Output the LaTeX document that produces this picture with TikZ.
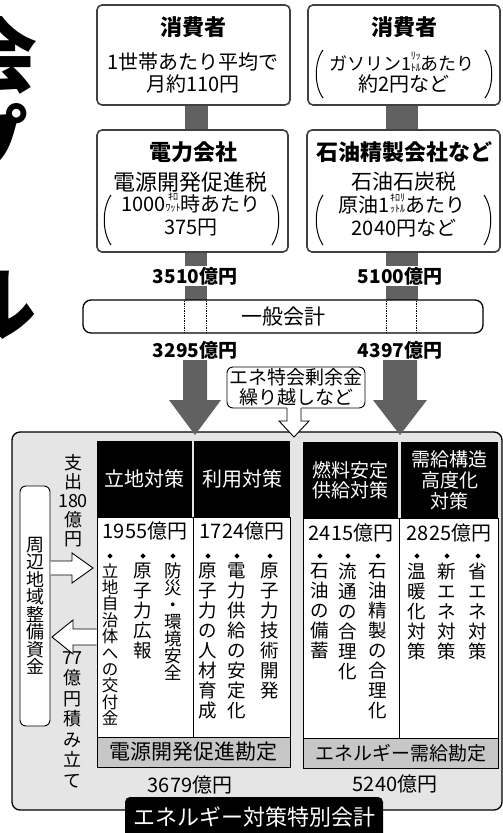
\documentclass[tikz,border=0pt]{standalone}
\usepackage{fontspec}
\setmainfont{Noto Sans CJK JP}
\usetikzlibrary{shapes.geometric}
\newcommand\fsz[2]{\fontsize{#1}{#2}\selectfont}
\newcommand\kstack[2]{{\fsz{10}{8.5}\raisebox{-0.5pt}{\shortstack{#1\\#2}}}}
\begin{document}
\begin{tikzpicture}[x=1pt,y=-1pt,
  topbox/.style={draw=black!75, line width=1.6pt, rounded corners=5pt, fill=white, inner sep=0pt},
  gbar/.style={fill=black!62},
  ttl/.style={font=\bfseries\fsz{22}{24}, inner sep=0pt},
  txt/.style={font=\fsz{20}{22}, inner sep=0pt},
  amt/.style={font=\bfseries\fsz{19}{20}, fill=white, inner sep=1pt},
  amtr/.style={font=\fsz{20}{22}, inner sep=0pt},
  hdr/.style={fill=black, text=white, font=\fsz{20}{21}, align=center, inner sep=0pt},
  bodyb/.style={draw=black, line width=0.8pt, fill=white, inner sep=0pt},
  labb/.style={draw=black, line width=0.8pt, fill=black!22, font=\fsz{20}{22}, inner sep=0pt},
  vcol/.style={anchor=north, align=center, inner sep=0pt, font=\fsz{18.5}{20}},
  bul/.style={diamond, fill=black, inner sep=0pt, minimum size=5.5pt},
  hollow/.style={draw=black, line width=0.9pt, line join=miter},
  paren/.style={line width=1pt},
]
\useasboundingbox (0,0) rectangle (503,833);
\clip (0,0) rectangle (503,833);

% clipped headline characters at the left edge
\node[font=\bfseries\fsz{82}{82}, inner sep=0pt] (hkai) at (-3,55) {会};
\node[font=\bfseries\fsz{82}{82}, inner sep=0pt] (hpu) at (-12,142) {プ};
\node[font=\bfseries\fsz{82}{82}, inner sep=0pt] (hru) at (-4,305) {ル};

% gray connectors
\fill[gbar] (185,100) rectangle (208,135);
\fill[gbar] (386,100) rectangle (418,135);
\fill[gbar] (185,248) rectangle (207,305);
\fill[gbar] (386,248) rectangle (418,305);

% top boxes
\node[topbox, minimum width=193pt, minimum height=100pt] (c1) at (193.5,55) {};
\node[topbox, minimum width=192pt, minimum height=100pt] (c2) at (404,55) {};
\node[topbox, minimum width=191pt, minimum height=122pt] (d1) at (192.5,191) {};
\node[topbox, minimum width=193pt, minimum height=122pt] (d2) at (403.5,191) {};

\node[ttl] (c1t) at (193,27) {消費者};
\node[txt] (c1a) at (193,62) {1世帯あたり平均で};
\node[txt] (c1b) at (193,84) {月約110円};
\node[ttl] (c2t) at (404,27) {消費者};
\node[txt, font=\fsz{18}{20}] (c2a) at (402,62) {ガソリン1\kstack{ﾘｯ}{ﾄﾙ}あたり};
\node[txt] (c2b) at (404,84) {約2円など};
\draw[paren] (323,50) .. controls (314,62) and (314,86) .. (323,98);
\draw[paren] (485,50) .. controls (494,62) and (494,86) .. (485,98);

\node[ttl] (d1t) at (193,152) {電力会社};
\node[txt, font=\fsz{22}{24}] (d1a) at (190,182) {電源開発促進税};
\node[txt] (d1b) at (191,203) {1000\kstack{ｷﾛ}{ﾜｯﾄ}時あたり};
\node[txt] (d1c) at (191,228) {375円};
\draw[paren] (111,195) .. controls (102,208) and (102,232) .. (111,245);
\draw[paren] (272,195) .. controls (281,208) and (281,232) .. (272,245);

\node[ttl] (d2t) at (404,152) {石油精製会社など};
\node[txt, font=\fsz{21}{24}] (d2a) at (404,182) {石油石炭税};
\node[txt] (d2b) at (402,204) {原油1\kstack{ｷﾛﾘ}{ｯﾄﾙ}あたり};
\node[txt] (d2c) at (404,228) {2040円など};
\draw[paren] (323,195) .. controls (314,208) and (314,232) .. (323,245);
\draw[paren] (484,195) .. controls (493,208) and (493,232) .. (484,245);

\node[amt] (m1) at (195,276) {3510億円};
\node[amt] (m2) at (400,276) {5100億円};

% general account
\node[draw, line width=1.3pt, rounded corners=8pt, fill=white, minimum width=400pt, minimum height=33pt, inner sep=0pt, font=\fsz{21}{22}] (gen) at (283,316.5) {一般会計};
\draw[densely dotted, line width=0.7pt] (184,301) -- (184,332);
\draw[densely dotted, line width=0.7pt] (206,301) -- (206,332);
\draw[densely dotted, line width=0.7pt] (386,301) -- (386,332);
\draw[densely dotted, line width=0.7pt] (416,301) -- (416,332);

% outer special account box
\node[draw, line width=1.3pt, rounded corners=8pt, fill=black!10, minimum width=490pt, minimum height=378pt, inner sep=0pt] (outer) at (257,621) {};

% big arrows
\fill[gbar] (183,342) -- (207,342) -- (207,400) -- (221,400) -- (195,435) -- (169,400) -- (183,400) -- cycle;
\fill[gbar] (383,342) -- (417,342) -- (417,400) -- (427,400) -- (400,435) -- (373,400) -- (383,400) -- cycle;
\node[amt] (m3) at (195,350) {3295億円};
\node[amt] (m4) at (400,350) {4397億円};

% surplus bubble
\node[draw, line width=0.9pt, rounded corners=6pt, fill=white, minimum width=138pt, minimum height=41pt, inner sep=0pt, align=center, font=\fsz{19}{20}] (bub) at (296,387.5) {エネ特会剰余金\\繰り越しなど};
\fill[white] (287,405) -- (301,405) -- (301,421) -- (309,421) -- (294,437) -- (279,421) -- (287,421) -- cycle;
\draw[hollow] (287,408) -- (287,421) -- (279,421) -- (294,437) -- (309,421) -- (301,421) -- (301,408);

% headers
\node[hdr, minimum width=95pt, minimum height=76pt] (h1) at (144.5,479) {立地対策};
\node[hdr, minimum width=96pt, minimum height=76pt] (h2) at (242,479) {利用対策};
\node[hdr, minimum width=95pt, minimum height=76pt, font=\fsz{19}{20}] (h3) at (350.5,480) {燃料安定\\供給対策};
\node[hdr, minimum width=97pt, minimum height=76pt, font=\fsz{19}{21}] (h4) at (449.5,480) {需給構造\\高度化\\対策};

% bodies
\node[bodyb, minimum width=96pt, minimum height=220pt] (bA1) at (145,627) {};
\node[bodyb, minimum width=97pt, minimum height=220pt] (bA2) at (241.5,627) {};
\node[bodyb, minimum width=96pt, minimum height=220pt] (bB1) at (351,628) {};
\node[bodyb, minimum width=99pt, minimum height=220pt] (bB2) at (448.5,628) {};

\node[amtr] (a1m) at (145,531) {1955億円};
\node[amtr] (a2m) at (242,531) {1724億円};
\node[amtr] (b1m) at (351,533) {2415億円};
\node[amtr] (b2m) at (449,533) {2825億円};

\foreach \x in {110,143,173,208,237,270,320,348,378,417,447,478}
  \node[bul] (bu\x) at (\x,556) {};

\node[vcol, font=\fsz{16.5}{16.4}] (a11) at (110,563) {立\\地\\自\\治\\体\\へ\\の\\交\\付\\金};
\node[vcol] (a12) at (143,563) {原\\子\\力\\広\\報};
\node[vcol, font=\fsz{17.5}{17}] (a13) at (173,563) {防\\災\\・\\環\\境\\安\\全};
\node[vcol] (a21) at (208,563) {原\\子\\力\\の\\人\\材\\育\\成};
\node[vcol] (a22) at (237,563) {電\\力\\供\\給\\の\\安\\定\\化};
\node[vcol] (a23) at (270,563) {原\\子\\力\\技\\術\\開\\発};
\node[vcol] (b11) at (320,563) {石\\油\\の\\備\\蓄};
\node[vcol] (b12) at (348,563) {流\\通\\の\\合\\理\\化};
\node[vcol] (b13) at (378,563) {石\\油\\精\\製\\の\\合\\理\\化};
\node[vcol] (b21) at (417,563) {温\\暖\\化\\対\\策};
\node[vcol] (b22) at (447,563) {新\\エ\\ネ\\対\\策};
\node[vcol] (b23) at (478,563) {省\\エ\\ネ\\対\\策};

% account labels
\node[labb, minimum width=193pt, minimum height=30pt, font=\fsz{21}{22}] (lA) at (193.5,752) {電源開発促進勘定};
\node[labb, minimum width=195pt, minimum height=30pt, font=\fsz{19}{22}] (lB) at (400.5,753) {エネルギー需給勘定};
\node[amtr] (tA) at (190,785) {3679億円};
\node[amtr] (tB) at (395,784) {5240億円};

% left side fund
\node[draw, line width=0.9pt, rounded corners=6pt, fill=white, minimum width=30pt, minimum height=240pt, inner sep=0pt, align=center, font=\fsz{18}{17.5}] (fund) at (35,606) {周\\辺\\地\\域\\整\\備\\資\\金};
\node[vcol, font=\fsz{18}{19}] (out180) at (73,454) {支\\出\\180\\億\\円};
\node[vcol, font=\fsz{18}{20.5}] (in77) at (72,651) {77\\億\\円\\積\\み\\立\\て};
\fill[white] (50.5,561) -- (72,561) -- (72,553) -- (93,568) -- (72,583) -- (72,575) -- (50.5,575) -- cycle;
\draw[hollow] (50.5,561) -- (72,561) -- (72,553) -- (93,568) -- (72,583) -- (72,575) -- (50.5,575);
\fill[white] (96.5,629) -- (73,629) -- (73,620) -- (52,637) -- (73,654) -- (73,645) -- (96.5,645) -- cycle;
\draw[hollow] (96.5,629) -- (73,629) -- (73,620) -- (52,637) -- (73,654) -- (73,645) -- (96.5,645);

% bottom title
\node[fill=black, text=white, rounded corners=5pt, minimum width=258pt, minimum height=46pt, inner sep=0pt] (title) at (254,820) {};
\node[text=white, font=\fsz{22}{24}, inner sep=0pt] (titlet) at (254,817) {エネルギー対策特別会計};
\end{tikzpicture}
\end{document}
